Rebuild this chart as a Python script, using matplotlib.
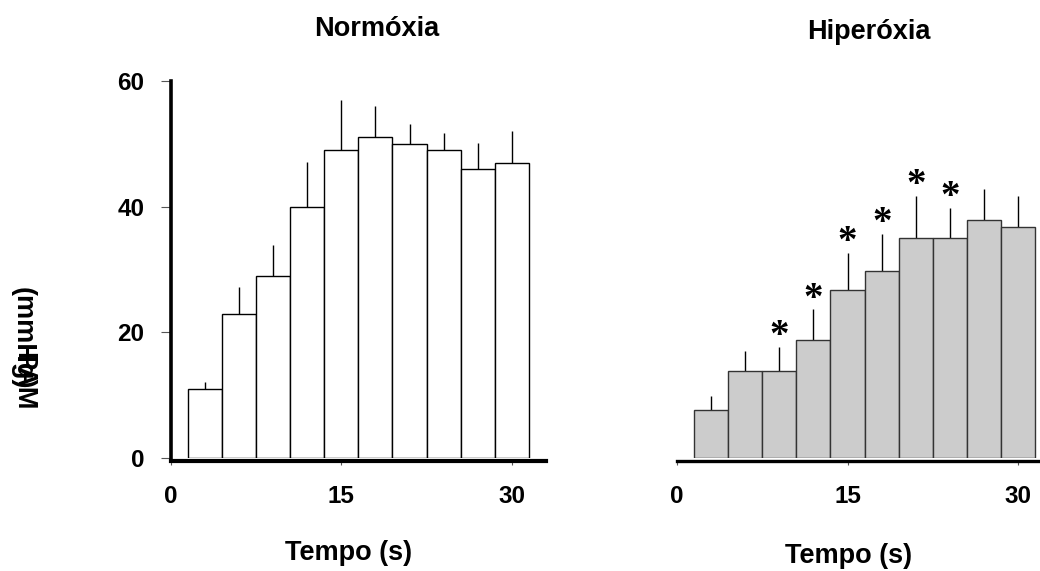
import numpy as np
import matplotlib
matplotlib.use('Agg')
import matplotlib.pyplot as plt

plt.rcParams['font.family'] = ['Liberation Sans', 'DejaVu Sans']
plt.rcParams['font.weight'] = 'bold'

## data
tempo = [3, 6, 9, 12, 15, 18, 21, 24, 27, 30]
normoxia = [11, 23, 29, 40, 49, 51, 50, 49, 46, 47]
normoxia_ep = [1.1, 4.2, 4.9, 7.1, 7.9, 5.0, 3.1, 2.7, 4.1, 5.0]
hiperoxia = [7.6, 13.9, 13.9, 18.8, 26.7, 29.7, 35.0, 35.0, 37.9, 36.8]
hiperoxia_ep = [2.3, 3.1, 3.8, 4.9, 6.0, 6.0, 6.7, 4.8, 4.9, 4.9]
signif = [False, False, True, True, True, True, True, True, False, False]
xticks = [0, 15, 30]
yticks = [0, 20, 40, 60]

W, H = 1040, 571
fig = plt.figure(figsize=(W / 100, H / 100), dpi=100)


def px_axes(x0, x1, y0, y1):
    # pixel box (top-left origin) -> figure fraction
    return fig.add_axes([x0 / W, 1 - y0 / H, (x1 - x0) / W, (y0 - y1) / H])


ax1 = px_axes(170.7, 546, 458.3, 80.7)
ax2 = px_axes(676.7, 1040, 458.3, 80.7)

# spine position first: it resets the ticks
for ax in (ax1, ax2):
    ax.spines['bottom'].set_position(('outward', 2))
    ax.spines['top'].set_visible(False)
    ax.spines['right'].set_visible(False)
    ax.set_facecolor('none')


def draw_bars(ax, y, ep, color, edge):
    x = np.array(tempo)
    y = np.array(y)
    ax.bar(x, y, width=3, color=color, edgecolor=edge, linewidth=1.0, zorder=2)
    ax.vlines(x, y, y + np.array(ep), color='black', linewidth=1.0, zorder=1)


draw_bars(ax1, normoxia, normoxia_ep, 'white', 'black')
draw_bars(ax2, hiperoxia, hiperoxia_ep, '#cccccc', '#333333')

for x, y, e, s in zip(tempo, hiperoxia, hiperoxia_ep, signif):
    if s:
        ax2.text(x, y + e + 0.1, '*', ha='center', va='baseline',
                 fontsize=28, fontweight='bold', family='Liberation Serif')

ax1.set_xlim(0, 33)
ax2.set_xlim(0, 363.3 / 11.39)
for ax in (ax1, ax2):
    ax.set_ylim(0, 60)
    ax.set_xticks(xticks)
    ax.set_xticklabels([str(t) for t in xticks])
    ax.tick_params(axis='x', direction='out', length=3, width=0.8,
                   color='#555555', pad=14, labelsize=17.5)

ax1.spines['bottom'].set_linewidth(3)
ax1.spines['left'].set_linewidth(2.6)
ax1.set_yticks(yticks)
ax1.set_yticklabels([str(t) for t in yticks])
ax1.tick_params(axis='y', direction='out', length=7, width=0.8,
                color='#555555', pad=12, labelsize=17.5)

ax2.spines['bottom'].set_linewidth(2.4)
ax2.spines['left'].set_visible(False)
ax2.set_yticks([])

# titles and axis labels
fig.text(377 / W, 1 - 29.5 / H, 'Normóxia', ha='center', va='center',
         fontsize=19.5, fontweight='bold')
fig.text(869 / W, 1 - 32 / H, 'Hiperóxia', ha='center', va='center',
         fontsize=19.5, fontweight='bold')
fig.text(348.5 / W, 1 - 553 / H, 'Tempo (s)', ha='center', va='center',
         fontsize=19.5, fontweight='bold')
fig.text(848.5 / W, 1 - 556 / H, 'Tempo (s)', ha='center', va='center',
         fontsize=19.5, fontweight='bold')
fig.text(23 / W, 1 - 338 / H, '(mmHg)', ha='center', va='center',
         rotation=-90, fontsize=19.5, fontweight='bold')
fig.text(23 / W, 1 - 381 / H, 'PAM', ha='center', va='center',
         rotation=-90, fontsize=19.5, fontweight='bold')

fig.savefig('out.png', dpi=100)
